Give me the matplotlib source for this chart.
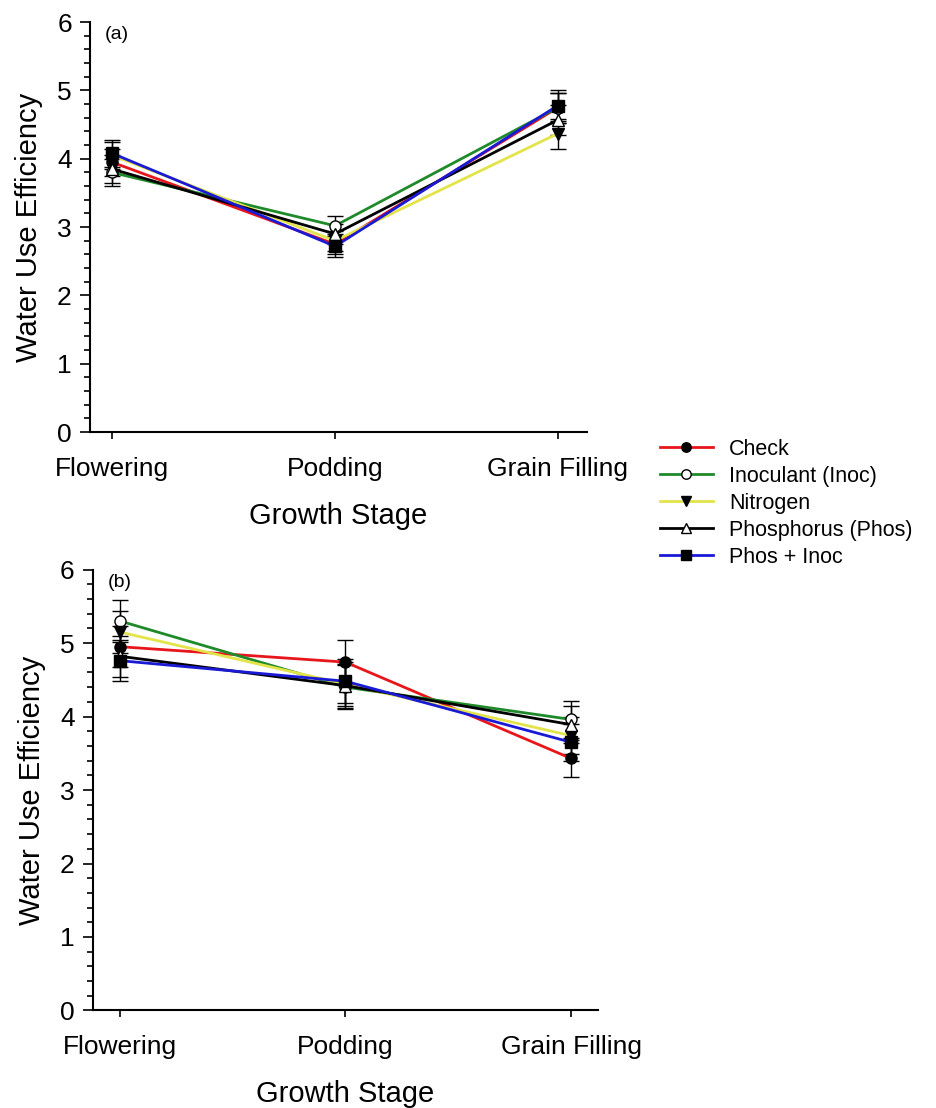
import matplotlib.pyplot as plt
from matplotlib.ticker import MultipleLocator

plt.rcParams['font.family'] = ['Liberation Sans', 'DejaVu Sans']

stages = ["Flowering", "Podding", "Grain Filling"]
treatments = ["Check", "Inoculant (Inoc)", "Nitrogen", "Phosphorus (Phos)", "Phos + Inoc"]

# panel (a) water use efficiency
wue_a_check = [3.95, 2.75, 4.75]
wue_a_inoc = [3.80, 3.02, 4.75]
wue_a_nitro = [4.05, 2.80, 4.37]
wue_a_phos = [3.85, 2.90, 4.57]
wue_a_phinoc = [4.08, 2.72, 4.78]
err_a = [0.20, 0.15, 0.22]

# panel (b) water use efficiency
wue_b_check = [4.95, 4.74, 3.43]
wue_b_inoc = [5.30, 4.40, 3.96]
wue_b_nitro = [5.15, 4.44, 3.74]
wue_b_phos = [4.82, 4.42, 3.89]
wue_b_phinoc = [4.76, 4.48, 3.65]
err_b = [0.28, 0.30, 0.25]

colors = ["#e8161b", "#1f8a2a", "#e3e34a", "#000000", "#1a1ad6"]
markers = ["o", "o", "v", "^", "s"]
faces = ["black", "white", "black", "white", "black"]

fig = plt.figure(figsize=(9.36, 11.08), dpi=100)
ax_a = fig.add_axes([0.096, 0.610, 0.531, 0.370])
ax_b = fig.add_axes([0.099, 0.088, 0.540, 0.398])

panels = [
    (ax_a, [wue_a_check, wue_a_inoc, wue_a_nitro, wue_a_phos, wue_a_phinoc], err_a, "(a)", (-0.10, 2.13)),
    (ax_b, [wue_b_check, wue_b_inoc, wue_b_nitro, wue_b_phos, wue_b_phinoc], err_b, "(b)", (-0.12, 2.12)),
]

x = list(range(len(stages)))
handles = []
for ax, series, err, tag, xl in panels:
    for i, vals in enumerate(series):
        ax.errorbar(x, vals, yerr=err, fmt="none", ecolor="black", elinewidth=1,
                    capsize=6, capthick=1, zorder=2)
    for i, vals in enumerate(series):
        h, = ax.plot(x, vals, color=colors[i], lw=2, marker=markers[i], ms=8,
                     mfc=faces[i], mec="black", mew=1, label=treatments[i], zorder=3 + i)
        if ax is ax_a:
            handles.append(h)
    ax.set_ylim(0, 6)
    ax.set_xlim(*xl)
    ax.yaxis.set_major_locator(MultipleLocator(1))
    ax.yaxis.set_minor_locator(MultipleLocator(0.2))
    ax.set_xticks(x)
    ax.set_xticklabels(stages, fontsize=19)
    ax.tick_params(axis="y", which="major", labelsize=19, length=7, width=1.2, pad=6)
    ax.tick_params(axis="y", which="minor", length=4, width=1.2)
    ax.tick_params(axis="x", length=5, width=1.2, pad=13)
    for s in ["top", "right"]:
        ax.spines[s].set_visible(False)
    for s in ["left", "bottom"]:
        ax.spines[s].set_linewidth(1.5)
    ax.set_ylabel("Water Use Efficiency", fontsize=21, labelpad=10)
    ax.set_xlabel("Growth Stage", fontsize=21, labelpad=15)
    ax.text(0.03, 0.99, tag, transform=ax.transAxes, fontsize=14, va="top")

fig.legend(handles=handles, loc="upper left", bbox_to_anchor=(0.705, 0.604),
           frameon=False, fontsize=15.5, handlelength=2.45, labelspacing=0.28,
           handletextpad=0.75, borderaxespad=0, borderpad=0, markerscale=0.85)

fig.savefig("out.png", dpi=100)
